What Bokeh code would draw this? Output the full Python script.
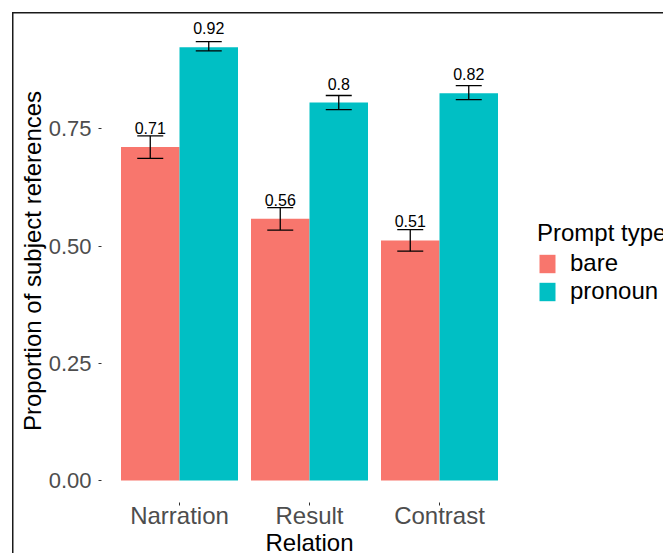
from bokeh.plotting import figure
from bokeh.models import (Range1d, FixedTicker, Legend, LegendItem, ColumnDataSource,
                          NumeralTickFormatter, GlobalInlineStyleSheet)
from bokeh.core.properties import value
from bokeh.embed import file_html
from bokeh.resources import INLINE

relations = ["Narration", "Result", "Contrast"]
prompt_types = ["bare", "pronoun"]
bare_mean = [0.711, 0.558, 0.512]
bare_lower = [0.687, 0.534, 0.489]
bare_upper = [0.735, 0.582, 0.535]
pron_mean = [0.924, 0.806, 0.826]
pron_lower = [0.916, 0.791, 0.812]
pron_upper = [0.936, 0.821, 0.842]
bare_label = ["0.71", "0.56", "0.51"]
pron_label = ["0.92", "0.8", "0.82"]
y_ticks = [0, 0.25, 0.5, 0.75]
colors = ["#F8766D", "#00BFC4"]

FONT = "Liberation Sans"
DODGE = 0.225
BAR_W = 0.45
CAP = 0.1

p = figure(frame_width=416, frame_height=483, output_backend="svg", toolbar_location=None,
           x_range=Range1d(0.4, 3.6), y_range=Range1d(-0.0468, 0.983),
           min_border_left=89, min_border_right=146, min_border_top=7, min_border_bottom=51)
p.margin = (12, 0, 0, 12)
p.border_fill_color = None
p.background_fill_color = None
p.outline_line_color = None
p.styles = {"box-shadow": "inset 1.5px 1.5px 0 0 #1a1a1a"}
p.stylesheets = [GlobalInlineStyleSheet(css="html, body { overflow: hidden; }")]

pos = list(range(1, len(relations) + 1))
series = [
    (bare_mean, bare_lower, bare_upper, bare_label, -DODGE, colors[0]),
    (pron_mean, pron_lower, pron_upper, pron_label, DODGE, colors[1]),
]
renderers = []
for mean, lo, hi, lab, off, col in series:
    xs = [v + off for v in pos]
    src = ColumnDataSource(dict(x=xs, x0=[v - CAP for v in xs], x1=[v + CAP for v in xs],
                                top=mean, lower=lo, upper=hi, label=lab))
    r = p.vbar(x="x", top="top", bottom=0, width=BAR_W, source=src, fill_color=col, line_color=None)
    renderers.append(r)
    p.segment(x0="x", y0="lower", x1="x", y1="upper", source=src, line_color="black", line_width=1.3)
    p.segment(x0="x0", y0="lower", x1="x1", y1="lower", source=src, line_color="black", line_width=1.3)
    p.segment(x0="x0", y0="upper", x1="x1", y1="upper", source=src, line_color="black", line_width=1.3)
    p.text(x="x", y="top", text="label", source=src, text_align="center", text_baseline="alphabetic",
           y_offset=-19, text_font=value(FONT), text_font_size="16px", text_color="black")

p.xaxis.ticker = FixedTicker(ticks=pos)
p.xaxis.major_label_overrides = {i: name for i, name in zip(pos, relations)}
p.yaxis.ticker = FixedTicker(ticks=y_ticks)
p.yaxis.formatter = NumeralTickFormatter(format="0.00")

p.grid.grid_line_color = None
p.axis.axis_line_color = None
p.axis.minor_tick_line_color = None
p.axis.major_tick_line_color = "#333333"
p.axis.major_tick_out = 3
p.axis.major_tick_in = 0
p.axis.major_label_text_font = FONT
p.axis.major_label_text_color = "#4D4D4D"
p.xaxis.major_label_text_font_size = "24px"
p.yaxis.major_label_text_font_size = "22px"
p.xaxis.major_label_standoff = -4
p.yaxis.major_label_standoff = 7
p.axis.axis_label_text_font = FONT
p.axis.axis_label_text_font_size = "24px"
p.axis.axis_label_text_font_style = "normal"
p.axis.axis_label_text_color = "black"
p.xaxis.axis_label = "Relation"
p.yaxis.axis_label = "Proportion of subject references"
p.xaxis.axis_label_standoff = -3
p.yaxis.axis_label_standoff = 0

legend = Legend(items=[LegendItem(label=pt, renderers=[r]) for pt, r in zip(prompt_types, renderers)],
                location=(20, 197), title="Prompt type",
                title_text_font=FONT, title_text_font_size="24px", title_text_font_style="normal",
                title_text_color="black", title_standoff=2,
                label_text_font=FONT, label_text_font_size="24px", label_text_color="black",
                glyph_width=20, glyph_height=23, label_height=21, spacing=0, label_standoff=13,
                padding=0, margin=0, border_line_color=None, background_fill_alpha=0)
p.add_layout(legend, "right")

open("out.html", "w").write(file_html(p, INLINE))
